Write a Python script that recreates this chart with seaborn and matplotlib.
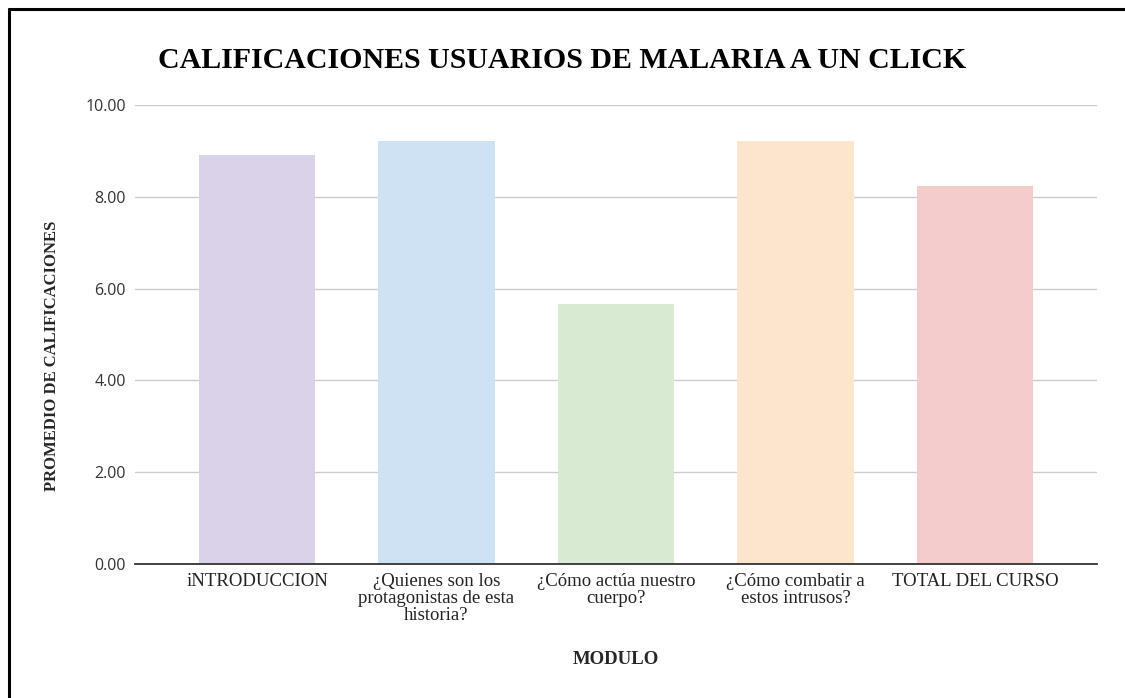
import pandas as pd
import matplotlib.pyplot as plt
import seaborn as sns
from matplotlib.lines import Line2D

modulos = ['iNTRODUCCION',
           '¿Quienes son los\nprotagonistas de esta\nhistoria?',
           '¿Cómo actúa nuestro\ncuerpo?',
           '¿Cómo combatir a\nestos intrusos?',
           'TOTAL DEL CURSO']
promedios = [8.91, 9.21, 5.67, 9.21, 8.23]
colores = ['#d9d2e9', '#cfe2f3', '#d9ead3', '#fce5cd', '#f4cccc']
yticks = [0, 2, 4, 6, 8, 10]

df = pd.DataFrame({'modulo': modulos, 'promedio': promedios})

sns.set_style('white')
plt.rcParams['font.family'] = ['Liberation Serif', 'DejaVu Serif']

fig = plt.figure(figsize=(11.25, 6.98), dpi=100)
ax = fig.add_axes([135 / 1125, 1 - 564 / 698, 962 / 1125, 459 / 698])

sns.barplot(data=df, x='modulo', y='promedio', hue='modulo', palette=colores,
            legend=False, width=0.65, saturation=1, edgecolor='none', linewidth=0, ax=ax)

ax.set_xlim(-0.68, 4.68)
ax.set_ylim(0, 10)
ax.set_yticks(yticks)
ax.set_yticklabels([f'{v:.2f}' for v in yticks], family='Open Sans', fontsize=11.5, color='#333333')
ax.tick_params(axis='both', length=0)
ax.tick_params(axis='y', pad=6.5)
ax.tick_params(axis='x', pad=6.5)
for lbl in ax.get_xticklabels():
    lbl.set_fontsize(13.5)
    lbl.set_linespacing(1.0)
    lbl.set_color('#222222')

ax.yaxis.grid(True, color='#cccccc', linewidth=1)
ax.set_axisbelow(True)
for s in ['top', 'right', 'left']:
    ax.spines[s].set_visible(False)
ax.spines['bottom'].set_color('#333333')
ax.spines['bottom'].set_linewidth(1.3)

ax.set_xlabel('MODULO', fontweight='bold', fontsize=13.5)
ax.set_ylabel('PROMEDIO DE CALIFICACIONES', fontweight='bold', fontsize=12)
ax.xaxis.set_label_coords(0.5, -(660 - 564) / 459)
ax.yaxis.set_label_coords(-(135 - 52) / 962, (564 - 356) / 459)
ax.xaxis.label.set_va('center')
ax.yaxis.label.set_va('center')

fig.text(0.5, 1 - 60 / 698, 'CALIFICACIONES USUARIOS DE MALARIA A UN CLICK',
         ha='center', va='center', fontsize=21.5, fontweight='bold', color='black')

# borde superior e izquierdo de la captura
fig.add_artist(Line2D([9 / 1125, 9 / 1125], [0, 1 - 9 / 698], transform=fig.transFigure,
                      color='black', linewidth=2.2))
fig.add_artist(Line2D([9 / 1125, 1], [1 - 9 / 698, 1 - 9 / 698], transform=fig.transFigure,
                      color='black', linewidth=2.2))

fig.savefig('out.png', dpi=100)
